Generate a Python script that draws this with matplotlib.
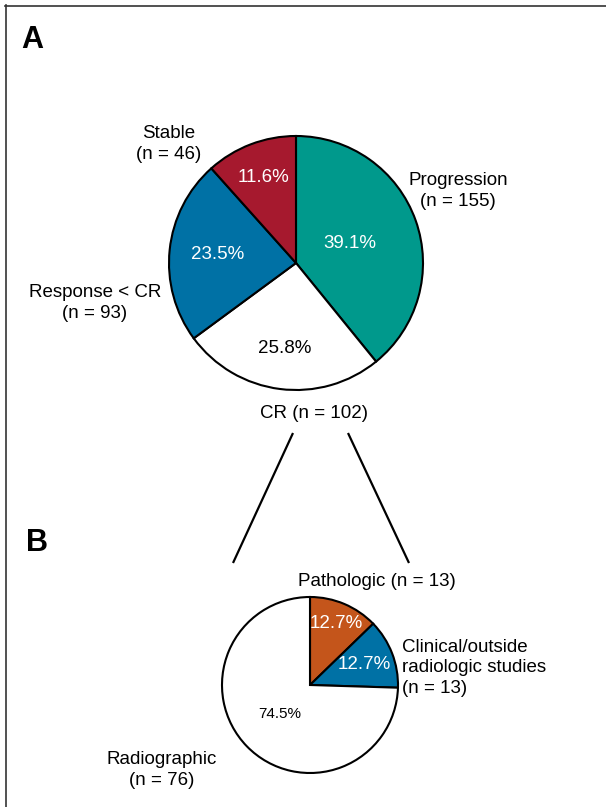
import numpy as np
import matplotlib
matplotlib.use("Agg")
import matplotlib.pyplot as plt
from matplotlib.lines import Line2D

plt.rcParams["font.family"] = ["Liberation Sans", "DejaVu Sans"]

# A: best overall response
resp_labels = ["Progression\n(n = 155)", "CR (n = 102)", "Response < CR\n(n = 93)", "Stable\n(n = 46)"]
resp_counts = [155, 102, 93, 46]
resp_colors = ["#00998c", "#ffffff", "#0071a5", "#a6192e"]
resp_text_colors = ["white", "black", "white", "white"]

# B: how the CR was confirmed
cr_labels = ["Pathologic (n = 13)", "Clinical/outside\nradiologic studies\n(n = 13)", "Radiographic\n(n = 76)"]
cr_counts = [13, 13, 76]
cr_colors = ["#c4551b", "#0071a5", "#ffffff"]
cr_text_colors = ["white", "white", "black"]

W, H = 606, 807


def Y(y):
    # page coordinates measured from the top
    return H - y


def draw_pie(ax, counts, colors, center, radius, dists, txt_colors, sizes):
    wedges, _ = ax.pie(counts, colors=colors, startangle=90, counterclock=False,
                       center=center, radius=radius,
                       wedgeprops=dict(edgecolor="black", linewidth=1.5))
    total = sum(counts)
    for w, n, d, c, s in zip(wedges, counts, dists, txt_colors, sizes):
        ang = np.deg2rad((w.theta1 + w.theta2) / 2)
        x = center[0] + d * radius * np.cos(ang)
        y = center[1] + d * radius * np.sin(ang)
        ax.text(x, y, f"{100 * n / total:.1f}%", color=c, fontsize=s,
                ha="center", va="center")
    return wedges


fig = plt.figure(figsize=(W / 100, H / 100), dpi=100)
ax = fig.add_axes([0, 0, 1, 1])

draw_pie(ax, resp_counts, resp_colors, (296, Y(263)), 127,
         [0.45, 0.68, 0.62, 0.72], resp_text_colors, [13.5, 13.5, 13.5, 13.5])
draw_pie(ax, cr_counts, cr_colors, (310, Y(685)), 88,
         [0.76, 0.66, 0.48], cr_text_colors, [13.5, 13.5, 11])

ax.set_xlim(0, W)
ax.set_ylim(0, H)
ax.set_aspect("equal")
ax.axis("off")

# outer slice labels
lab = dict(fontsize=13.5, ha="center", va="center", linespacing=1.3)
ax.text(458, Y(191), resp_labels[0], **lab)
ax.text(314, Y(414), resp_labels[1], **lab)
ax.text(95, Y(303), resp_labels[2], **lab)
ax.text(169, Y(144), resp_labels[3], **lab)

ax.text(377, Y(582), cr_labels[0], **lab)
ax.text(402, Y(668), cr_labels[1], fontsize=13.5, ha="left", va="center", linespacing=1.3)
ax.text(162, Y(770), cr_labels[2], **lab)

# lines fanning CR out into panel B
ax.plot([293, 233], [Y(433), Y(563)], color="black", lw=1.6, solid_capstyle="butt")
ax.plot([348, 409], [Y(433), Y(563)], color="black", lw=1.6, solid_capstyle="butt")

# panel letters
ax.text(32, Y(40), "A", fontsize=22, fontweight="bold", ha="center", va="center")
ax.text(37, Y(543), "B", fontsize=22, fontweight="bold", ha="center", va="center")

# frame
ax.add_line(Line2D([5.5, 5.5], [Y(5), 0], color="#333333", lw=1.2, clip_on=False))
ax.add_line(Line2D([5, W], [Y(5.5), Y(5.5)], color="#333333", lw=1.2, clip_on=False))

fig.savefig("out.png", dpi=100)
